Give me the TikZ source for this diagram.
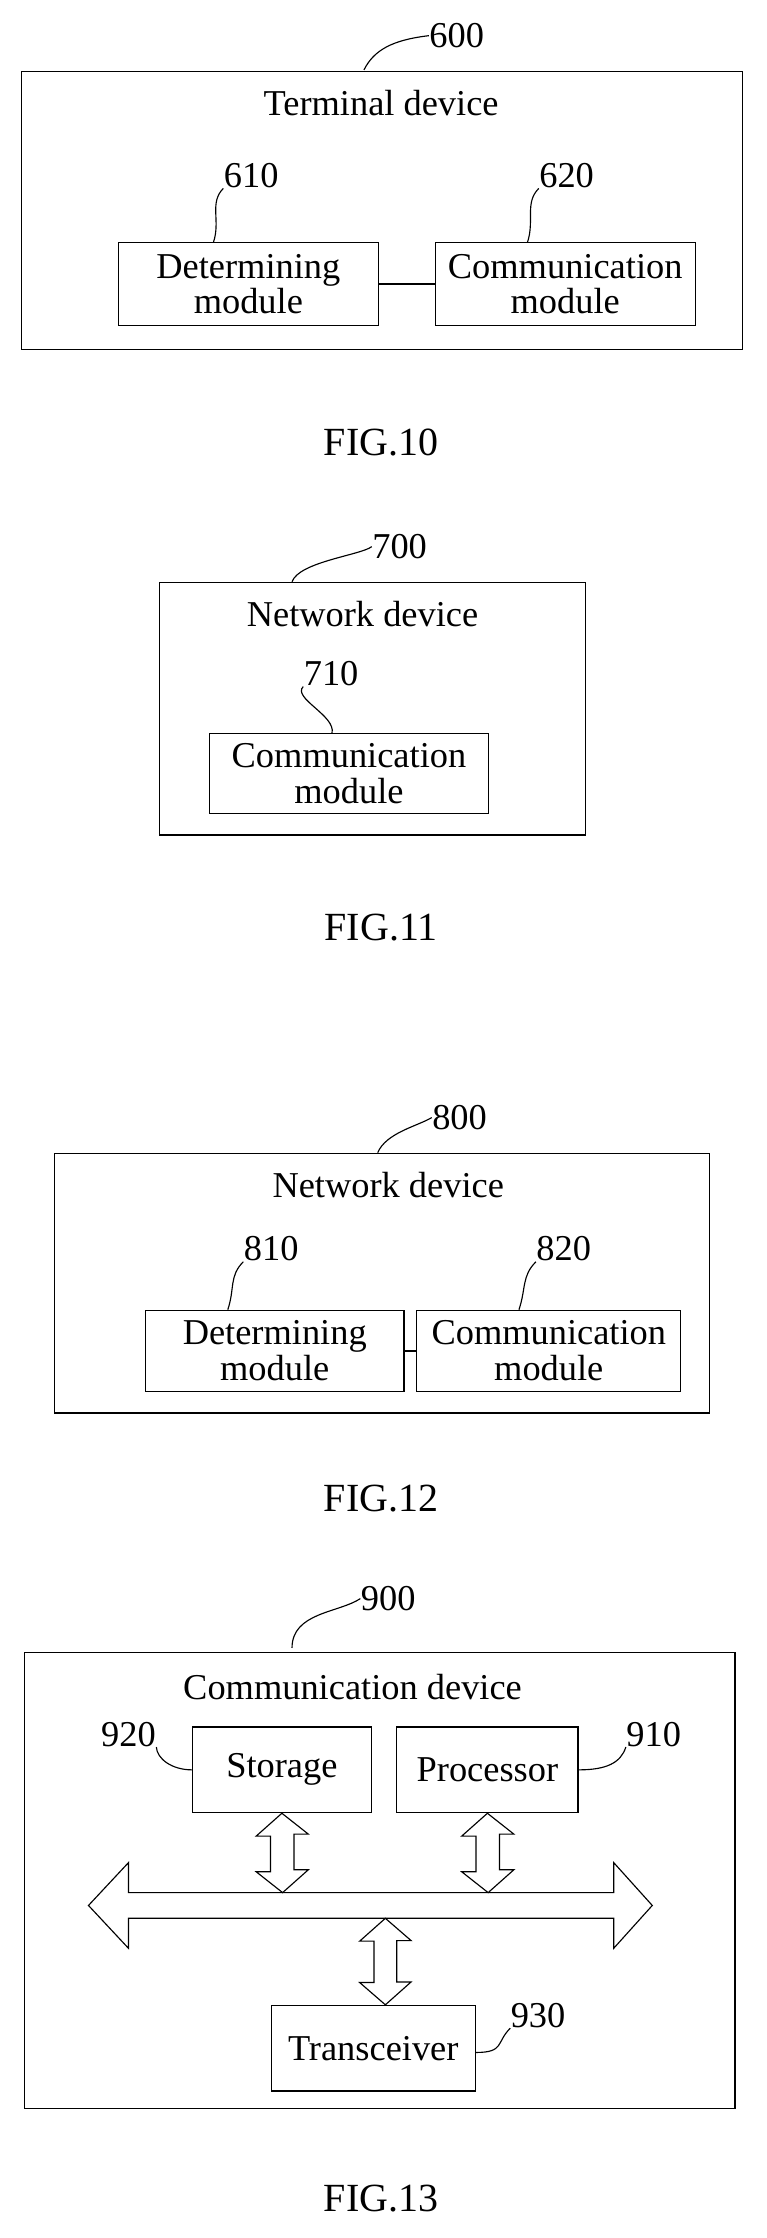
\documentclass[tikz,border=0pt]{standalone}
\usepackage{fontspec}
\setmainfont{Liberation Serif}
\begin{document}
\begin{tikzpicture}[x=1pt,y=-1pt,line width=0.8pt,
  box/.style={draw,inner sep=0pt,align=center,font=\fontsize{25.5}{25}\selectfont},
  txt/.style={inner sep=0pt,font=\fontsize{25.5}{25}\selectfont},
  fig/.style={inner sep=0pt,font=\fontsize{28}{28}\selectfont},
  dar/.style={draw,fill=white,line width=0.8pt}]
\useasboundingbox (0,0) rectangle (537,1568);
% FIG 10
\node[box,minimum width=505,minimum height=195] (o600) at (267.5,147.5) {};
\node[txt] (t600) at (267,72) {Terminal device};
\node[txt] (l600) at (320,25) {600};
\coordinate (c600) at (255,49);
\draw (c600) .. controls (262,35) and (275,28) .. (l600.west);
\node[box,minimum width=182,minimum height=58] (m610) at (174,199) {Determining\\module};
\node[box,minimum width=182,minimum height=58] (m620) at (396,199) {Communication\\module};
\draw (m610.east) -- (m620.west);
\node[txt] (l610) at (176,123) {610};
\node[txt] (l620) at (397,123) {620};
\draw (m610.north west) ++(67,0) .. controls ++(5,-15) and ++(-10,10) .. (l610.south west);
\draw (m620.north west) ++(65,0) .. controls ++(5,-15) and ++(-10,10) .. (l620.south west);
\node[fig] (f10) at (267,310) {FIG.10};
% FIG 11
\node[box,minimum width=298,minimum height=177] (o700) at (261,496.5) {};
\node[txt] (t700) at (254,430) {Network device};
\node[txt] (l700) at (280,383) {700};
\draw (o700.north west) ++(93,0) .. controls ++(5,-14) and ++(-8,6) .. (l700.west);
\node[box,minimum width=195,minimum height=56] (m710) at (244.5,542) {Communication\\module};
\node[txt] (l710) at (232,472) {710};
\draw (m710.north west) ++(86,0) .. controls ++(3,-12) and ++(-8,8) .. (l710.south west);
\node[fig] (f11) at (267,650) {FIG.11};
% FIG 12
\node[box,minimum width=459,minimum height=182] (o800) at (267.5,899) {};
\node[txt] (t800) at (272,830) {Network device};
\node[txt] (l800) at (322,783) {800};
\draw (o800.north west) ++(227,0) .. controls ++(6,-14) and ++(-10,6) .. (l800.west);
\node[box,minimum width=181,minimum height=57] (m810) at (192.5,946.5) {Determining\\module};
\node[box,minimum width=185,minimum height=57] (m820) at (384.5,946.5) {Communication\\module};
\draw (m810.east) -- (m820.west);
\node[txt] (l810) at (190,875) {810};
\node[txt] (l820) at (395,875) {820};
\draw (m810.north west) ++(58,0) .. controls ++(5,-15) and ++(-10,10) .. (l810.south west);
\draw (m820.north west) ++(72,0) .. controls ++(5,-15) and ++(-10,10) .. (l820.south west);
\node[fig] (f12) at (267,1050) {FIG.12};
% FIG 13
\node[box,minimum width=498,minimum height=319] (o900) at (266,1317.5) {};
\node[txt] (t900) at (247,1182) {Communication device};
\node[txt] (l900) at (272,1120) {900};
\draw (o900.north west) ++(188,-3) .. controls ++(0,-25) and ++(-15,10) .. (l900.west);
\node[box,minimum width=125,minimum height=60] (st) at (197.5,1240) {Storage};
\node[box,minimum width=127,minimum height=60] (pr) at (341.5,1240) {Processor};
\node[box,minimum width=143,minimum height=60] (tr) at (261.5,1435) {Transceiver};
\node[txt] (l920) at (90,1215) {920};
\node[txt] (l910) at (458,1215) {910};
\node[txt] (l930) at (377,1412) {930};
\draw (st.west) .. controls (120,1240) and (110,1232) .. (l920.south east);
\draw (pr.east) .. controls (425,1240) and (435,1235) .. (l910.south west);
\draw (tr.east) ++(0,3) .. controls ++(20,0) and ++(-10,10) .. (l930.south west);
% bus
\draw[dar] (62,1335) -- (90,1305) -- (90,1326) -- (430,1326) -- (430,1305) -- (457,1335) -- (430,1365) -- (430,1344) -- (90,1344) -- (90,1365) -- cycle;
\coordinate (b1) at (198,1326);
\coordinate (b2) at (342,1326);
\coordinate (b3) at (270,1344);
\draw[dar] (st.south) -- ++(-18,16) -- ++(10,0) -- ++(0,25) -- ++(-10,0) -- (b1) -- ++(18,-16) -- ++(-10,0) -- ++(0,-25) -- ++(10,0) -- cycle;
\draw[dar] (pr.south) -- ++(-18,16) -- ++(10,0) -- ++(0,25) -- ++(-10,0) -- (b2) -- ++(18,-16) -- ++(-10,0) -- ++(0,-25) -- ++(10,0) -- cycle;
\draw[dar] (b3) -- ++(-18,16) -- ++(10,0) -- ++(0,29) -- ++(-10,0) -- (tr.north -| b3) -- ++(18,-16) -- ++(-10,0) -- ++(0,-29) -- ++(10,0) -- cycle;
\node[fig] (f13) at (267,1540) {FIG.13};
\end{tikzpicture}
\end{document}
